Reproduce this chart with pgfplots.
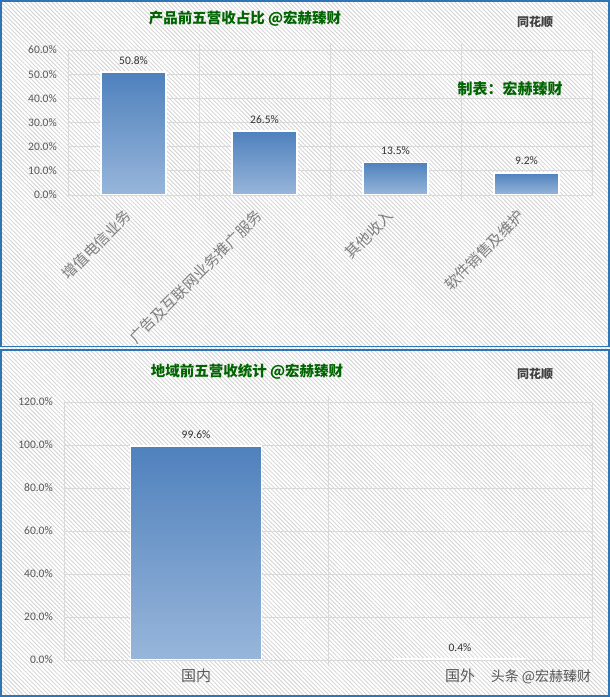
\documentclass[border=0pt]{standalone}
\usepackage{fontspec}
\setmainfont{Carlito}
\newfontfamily\cjk{Noto Sans CJK SC}
\usepackage{pgfplots}
\pgfplotsset{compat=1.18}
\usetikzlibrary{patterns.meta}
\definecolor{barTop}{HTML}{4F81BD}
\definecolor{barBot}{HTML}{98B6DA}
\definecolor{gridc}{HTML}{D9D9D9}
\definecolor{tickc}{HTML}{595959}
\definecolor{titleg}{HTML}{006400}
\definecolor{framec}{HTML}{2E75B6}
\definecolor{rotc}{HTML}{808080}
\pgfplotsset{
  mybar/.style={ybar, bar shift=0pt, draw=white, line width=1.5pt,
    top color=barTop, bottom color=barBot,
    nodes near coords={\pgfmathprintnumber[fixed,fixed zerofill,precision=1]{\pgfplotspointmeta}\%},
    nodes near coords style={font=\fontsize{11.5}{12}\selectfont, text=black!80, inner sep=0pt, anchor=south, yshift=7pt}},
  common/.style={scale only axis, anchor=south west,
    /pgf/number format/assume math mode=true,
    axis line style={draw=gridc, line width=0.8pt},
    ymajorgrids, major grid style={draw=gridc, line width=0.8pt},
    xtick style={draw=gridc, line width=0.8pt}, ytick style={draw=none},
    major tick length=0pt,
    extra x tick style={grid=major, major tick length=6pt, tick align=outside},
    yticklabel={\pgfmathprintnumber[fixed,fixed zerofill,precision=1]{\tick}\%},
    yticklabel style={font=\fontsize{11.5}{12}\selectfont, text=tickc, inner sep=0pt, anchor=east, xshift=-11pt},
  }
}
\begin{document}
\begin{tikzpicture}
\fill[white] (0pt,0pt) rectangle (610pt,697pt);
\fill[pattern={Lines[angle=-45,distance=3pt,line width=0.8pt]},pattern color=black!18] (0pt,0pt) rectangle (610pt,697pt);
\useasboundingbox (0pt,0pt) rectangle (610pt,697pt);
\draw[framec,line width=1.2pt] (1pt,350.5pt) rectangle (609pt,696pt);
\draw[framec,line width=1.2pt] (1pt,1pt) rectangle (609pt,347pt);

% ---------- top panel
\begin{axis}[common,
  at={(68pt,502pt)}, width=524pt, height=145pt,
  xmin=-0.5, xmax=3.5, ymin=0, ymax=60, ytick={0,10,...,60},
  xtick={0,1,2,3},
  xticklabels={增值电信业务, 广告及互联网业务推广服务, 其他收入, 软件销售及维护},
  xticklabel style={font=\cjk\fontsize{15}{15}\selectfont, text=rotc, inner sep=0pt,
     xshift=-10pt, yshift=-13pt, rotate=45, anchor=north east},
  extra x ticks={0.5,1.5,2.5}, extra x tick labels={},
]
\addplot[mybar, bar width=65pt] coordinates {(0,50.8)};
\addplot[mybar, bar width=65pt] coordinates {(1,26.5)};
\addplot[mybar, bar width=65pt] coordinates {(2,13.5)};
\addplot[mybar, bar width=65pt] coordinates {(3,9.2)};
\end{axis}

% ---------- bottom panel
\begin{axis}[common,
  at={(64pt,37pt)}, width=528pt, height=258pt,
  xmin=-0.5, xmax=1.5, ymin=0, ymax=120, ytick={0,20,...,120},
  xtick={0,1}, xticklabels={国内, 国外},
  xticklabel style={font=\cjk\fontsize{15}{15}\selectfont, text=tickc, inner sep=0pt, anchor=north, yshift=-9pt},
  extra x ticks={0.5}, extra x tick labels={},
]
\addplot[mybar, bar width=131pt] coordinates {(0,99.6)};
\addplot[mybar, bar width=131pt] coordinates {(1,0.4)};
\end{axis}

% ---------- texts
\node[font=\cjk\bfseries\fontsize{14.5}{15}\selectfont, text=titleg] at (245pt,678pt) {产品前五营收占比 @宏赫臻财};
\node[font=\cjk\bfseries\fontsize{12}{13}\selectfont, text=black!75] at (535pt,675pt) {同花顺};
\node[font=\cjk\bfseries\fontsize{15}{16}\selectfont, text=titleg] at (510pt,608pt) {制表：宏赫臻财};
\node[font=\cjk\bfseries\fontsize{14.5}{15}\selectfont, text=titleg] at (247pt,325pt) {地域前五营收统计 @宏赫臻财};
\node[font=\cjk\bfseries\fontsize{12}{13}\selectfont, text=black!75] at (535pt,323pt) {同花顺};
\node[font=\cjk\fontsize{14}{15}\selectfont, text=black!65] at (541pt,20pt) {头条 @宏赫臻财};
\end{tikzpicture}
\end{document}
